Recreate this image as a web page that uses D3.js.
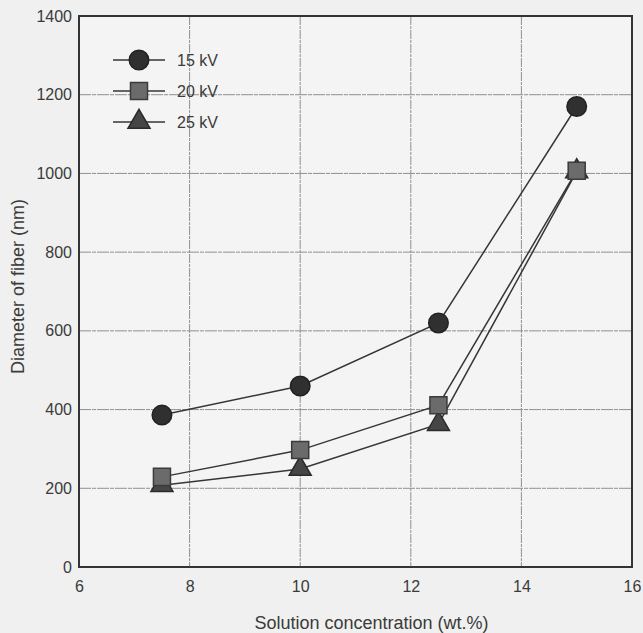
<!DOCTYPE html>
<html>
<head>
<meta charset="utf-8">
<script src="https://cdn.jsdelivr.net/npm/d3@7"></script>
<style>
  body { margin: 0; background: #eff0ef; }
  svg { display: block; font-family: "Liberation Sans", Arial, sans-serif; }
</style>
</head>
<body>
<div id="chart"></div>
<script>
// Data
const concentration = [7.5, 10, 12.5, 15];
const kv15 = [386, 460, 620, 1170];
const kv20 = [229, 297, 411, 1007];
const kv25 = [208, 249, 363, 1005];
const seriesNames = ["15 kV", "20 kV", "25 kV"];
const xTicks = [6, 8, 10, 12, 14, 16];
const yTicks = [0, 200, 400, 600, 800, 1000, 1200, 1400];

const W = 643, H = 633;
const margin = { top: 16, right: 11, bottom: 66, left: 79 };
const width = W - margin.left - margin.right;
const height = H - margin.top - margin.bottom;

const svg = d3.select("#chart").append("svg")
    .attr("width", W)
    .attr("height", H);

const g = svg.append("g")
    .attr("transform", `translate(${margin.left},${margin.top})`);

const x = d3.scaleLinear().domain([6, 16]).range([0, width]);
const y = d3.scaleLinear().domain([0, 1400]).range([height, 0]);

// plot background
g.append("rect")
    .attr("width", width)
    .attr("height", height)
    .attr("fill", "#f3f4f3");

// grid
g.append("g").selectAll("line.gx")
    .data(xTicks.slice(1, -1))
    .join("line")
    .attr("x1", d => x(d)).attr("x2", d => x(d))
    .attr("y1", 0).attr("y2", height)
    .attr("stroke", "#8f918f")
    .attr("stroke-width", 1)
    .attr("stroke-dasharray", "9,1,3,1");

g.append("g").selectAll("line.gy")
    .data(yTicks.slice(1, -1))
    .join("line")
    .attr("x1", 0).attr("x2", width)
    .attr("y1", d => y(d)).attr("y2", d => y(d))
    .attr("stroke", "#8f918f")
    .attr("stroke-width", 1)
    .attr("stroke-dasharray", "12,1,4,1");

// axes
const xAxis = g.append("g")
    .attr("transform", `translate(0,${height})`)
    .call(d3.axisBottom(x).tickValues(xTicks).tickFormat(d3.format("d")).tickSize(0).tickPadding(14));
const yAxis = g.append("g")
    .call(d3.axisLeft(y).tickValues(yTicks).tickFormat(d3.format("d")).tickSize(0).tickPadding(7));

[xAxis, yAxis].forEach(a => {
    a.select(".domain").remove();
    a.selectAll("text")
        .style("font-size", "16px")
        .style("font-family", "Liberation Sans, Arial, sans-serif")
        .attr("fill", "#3a3b3a");
});

// frame
g.append("rect")
    .attr("width", width)
    .attr("height", height)
    .attr("fill", "none")
    .attr("stroke", "#333")
    .attr("stroke-width", 2);

// axis titles
svg.append("text")
    .attr("x", margin.left + width / 2 + 16)
    .attr("y", H - 4)
    .attr("text-anchor", "middle")
    .style("font-size", "18px")
    .attr("fill", "#3a3b3a")
    .text("Solution concentration (wt.%)");

svg.append("text")
    .attr("transform", `translate(24,${margin.top + height / 2 - 5}) rotate(-90)`)
    .attr("text-anchor", "middle")
    .style("font-size", "18px")
    .attr("fill", "#3a3b3a")
    .text("Diameter of fiber (nm)");

// series
const series = [
    { name: seriesNames[0], values: kv15, shape: d3.symbolCircle, size: 300, fill: "#2f302f", stroke: "#222" },
    { name: seriesNames[1], values: kv20, shape: d3.symbolSquare, size: 290, fill: "#6a6b6a", stroke: "#3a3b3a" },
    { name: seriesNames[2], values: kv25, shape: d3.symbolTriangle, size: 210, fill: "#454645", stroke: "#2a2b2a" }
];

const line = d3.line()
    .x((d, i) => x(concentration[i]))
    .y(d => y(d));

// draw lines first so all markers sit on top
series.slice().reverse().forEach(s => {
    g.append("path")
        .datum(s.values)
        .attr("fill", "none")
        .attr("stroke", "#353635")
        .attr("stroke-width", 1.5)
        .attr("d", line);
});

series.slice().reverse().forEach(s => {
    g.append("g").selectAll("path")
        .data(s.values)
        .join("path")
        .attr("transform", (d, i) => `translate(${x(concentration[i])},${y(d)})`)
        .attr("d", d3.symbol().type(s.shape).size(s.size))
        .attr("fill", s.fill)
        .attr("stroke", s.stroke)
        .attr("stroke-width", 1.5);
});

// legend
const legend = g.append("g").attr("transform", "translate(34,44)");
series.forEach((s, i) => {
    const row = legend.append("g").attr("transform", `translate(0,${i * 31})`);
    row.append("line")
        .attr("x1", 0).attr("x2", 52)
        .attr("stroke", "#353635")
        .attr("stroke-width", 1.6);
    row.append("path")
        .attr("transform", "translate(26,0)")
        .attr("d", d3.symbol().type(s.shape).size(s.size))
        .attr("fill", s.fill)
        .attr("stroke", s.stroke)
        .attr("stroke-width", 1.5);
    row.append("text")
        .attr("x", 64)
        .attr("y", 6)
        .style("font-size", "16px")
        .attr("fill", "#3a3b3a")
        .text(s.name);
});
</script>
</body>
</html>
